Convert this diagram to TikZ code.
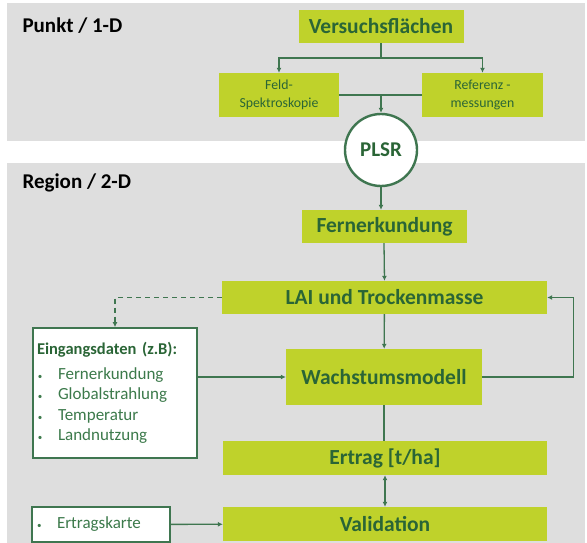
\documentclass[tikz,border=0pt]{standalone}
\usepackage{fontspec}
\setmainfont{Carlito}
\usetikzlibrary{arrows.meta}

\definecolor{panelgray}{HTML}{DEDEDE}
\definecolor{boxgreen}{HTML}{BFD22B}
\definecolor{darkgreen}{HTML}{2A6536}
\definecolor{linegreen}{HTML}{3F7650}
\definecolor{listgreen}{HTML}{3C7A4B}

\tikzset{
  box/.style={fill=boxgreen, text=darkgreen, inner sep=0pt, align=center,
    font=\bfseries\fontsize{21.5}{23}\selectfont},
  smallbox/.style={box, font=\fontsize{13.8}{17.5}\selectfont},
  whitebox/.style={draw=linegreen, line width=1.8pt, fill=white, inner sep=0pt},
  conn/.style={draw=linegreen, line width=1.3pt},
  >={Latex[length=5pt,width=5pt]}
}

\begin{document}
\begin{tikzpicture}[x=1pt,y=-1pt]
        \useasboundingbox (0,0) rectangle (587,543);
        % panels
        \fill[panelgray] (7,3) rectangle (585,141);
        \fill[panelgray] (7,163) rectangle (585,543);
        \node[anchor=west, font=\bfseries\fontsize{21}{23}\selectfont] (punkt) at (19,26) {Punkt / 1-D};
        \node[anchor=west, font=\bfseries\fontsize{21}{23}\selectfont] (region) at (19,183) {Region / 2-D};

        % Punkt / 1-D
        \node[box, minimum width=165, minimum height=33] (versuch) at (381,26.5) {Versuchsflächen};
        \node[smallbox, minimum width=120, minimum height=44] (feld) at (279,95) {Feld-\\Spektroskopie};
        \node[smallbox, minimum width=121, minimum height=44] (referenz) at (482.5,95) {Referenz -\\messungen};
        \node[circle, draw=linegreen, line width=2.4pt, fill=white, minimum size=72,
              text=darkgreen, font=\bfseries\fontsize{21}{23}\selectfont] (plsr) at (381,150) {PLSR};
        \coordinate (split) at (381,58);

        % Region / 2-D
        \node[box, minimum width=165, minimum height=33] (fern) at (384.5,226.5) {Fernerkundung};
        \node[box, minimum width=325, minimum height=33] (lai) at (384.5,297.5) {LAI und Trockenmasse};
        \node[box, minimum width=196, minimum height=56] (wachs) at (384,377) {Wachstumsmodell};
        \node[box, minimum width=324, minimum height=34] (ertrag) at (385,458) {Ertrag [t/ha]};
        \node[box, minimum width=324, minimum height=34] (valid) at (385,524) {Validation};
        \node[whitebox, minimum width=164, minimum height=130, text width=156, align=left,
              text=listgreen, font=\fontsize{17}{20.5}\selectfont] (eingang) at (115,393)
              {{\bfseries\fontsize{16.5}{18}\selectfont\color{darkgreen}Eingangsdaten (z.B):}\\[4pt]
               \makebox[21pt][l]{\hspace{1pt}\small•}Fernerkundung\\
               \makebox[21pt][l]{\hspace{1pt}\small•}Globalstrahlung\\
               \makebox[21pt][l]{\hspace{1pt}\small•}Temperatur\\
               \makebox[21pt][l]{\hspace{1pt}\small•}Landnutzung};
        \node[whitebox, minimum width=138, minimum height=35, text width=130, align=left,
              text=listgreen, font=\fontsize{17}{20}\selectfont] (karte) at (101,524.5)
              {\makebox[21pt][l]{\hspace{1pt}\small•}Ertragskarte};

        % connectors
        \draw[conn] (versuch) -- (split);
        \draw[conn,->] (split) -| (feld);
        \draw[conn,->] (split) -| (referenz);
        \draw[conn] (feld.east) -- (referenz.west);
        \draw[conn,->] (plsr.north |- feld.east) -- (plsr);
        \draw[conn,->] (plsr) -- (plsr |- fern.north);
        \draw[conn,->] (fern.south -| lai.north) ++(-0.5,0) -- (lai.north);
        \draw[conn,->] (lai) -- (wachs);
        \draw[conn,->,dashed,dash pattern=on 5pt off 4pt] (lai.west) -| (eingang.north);
        \draw[conn,->] (wachs.east) -- ++(91,0) |- (lai.east);
        \draw[conn,->] (eingang.east |- wachs.west) -- (wachs.west);
        \draw[conn] (wachs) -- (wachs |- ertrag.north);
        \draw[conn,<->] (ertrag) -- (valid);
        \draw[conn,->] (karte) -- (valid);
    \end{tikzpicture}
\end{document}
